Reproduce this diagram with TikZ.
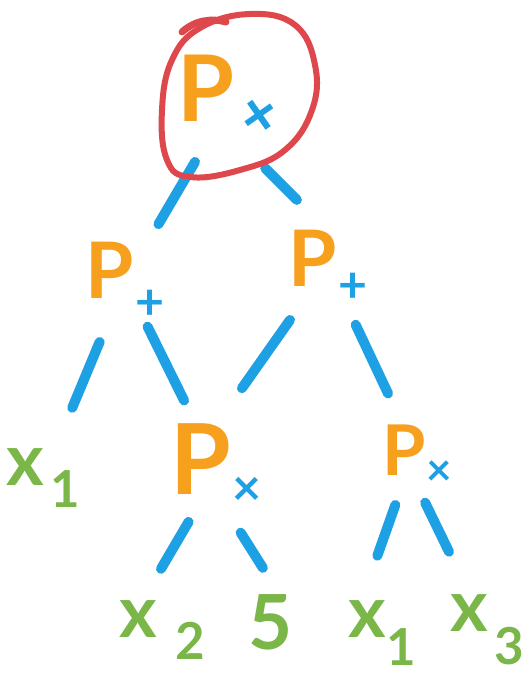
\documentclass[tikz,border=0pt]{standalone}
\usepackage{fontspec}
\setmainfont{Lato}
\usepackage{xcolor}
\definecolor{penorange}{RGB}{247,160,30}
\definecolor{penblue}{RGB}{30,160,228}
\definecolor{pengreen}{RGB}{122,182,72}
\definecolor{penred}{RGB}{222,72,76}

% P with its operator below right: size, op size, op, drop
\newcommand{\pgate}[4]{\fontsize{#1}{#1}\selectfont P\kern1pt\raisebox{-#4}{\textcolor{penblue}{\fontsize{#2}{#2}\selectfont #3}}}
% variable with index: index, kern, drop
\newcommand{\xvar}[3]{\fontsize{72}{72}\selectfont x\kern#2\raisebox{-#3}{\fontsize{51}{51}\selectfont #1}}

\begin{document}
\begin{tikzpicture}[x=1pt, y=-1pt,
  gate/.style={text=penorange, inner sep=0pt, font=\bfseries},
  leaf/.style={text=pengreen, inner sep=0pt, font=\bfseries},
  branch/.style={draw=penblue, line width=10pt, line cap=round}]
\useasboundingbox (0,0) rectangle (527,677);

\node[gate] (root) at (232,99) {\pgate{92}{64}{\rotatebox{35}{+}}{22pt}};
\node[gate] (lp) at (125,281) {\pgate{78}{50}{+}{21pt}};
\node[gate] (rp) at (328,266) {\pgate{78}{50}{+}{16pt}};
\node[gate] (mp) at (216,465) {\pgate{98}{50}{×}{11pt}};
\node[gate] (rb) at (417,455) {\pgate{70}{44}{×}{10pt}};

\node[leaf] (x1L) at (43,478) {\xvar{1}{6pt}{22pt}};
\node[leaf] (x2) at (162,630) {\xvar{2}{18pt}{22pt}};
\node[leaf, font=\bfseries\fontsize{76}{76}\selectfont] (five) at (271,622) {5};
\node[leaf] (x1R) at (382,633) {\xvar{1}{0pt}{28pt}};
\node[leaf] (x3) at (487,630) {\xvar{3}{6pt}{33pt}};

\draw[branch, shorten <=73pt, shorten >=66pt] (root.center) -- (lp.center);
\draw[branch, shorten <=47pt, shorten >=44pt] ([yshift=-36pt]root.center) -- ([yshift=35pt]rp.center);
\draw[branch, shorten <=66pt, shorten >=76pt] (lp.center) -- (x1L.center);
\draw[branch, shorten <=51pt, shorten >=72pt] (lp.center) -- (mp.center);
\draw[branch, shorten <=66pt, shorten >=45pt] (rp.center) -- ([yshift=40pt]mp.center);
\draw[branch, shorten <=65pt, shorten >=68pt] (rp.center) -- (rb.center);
\draw[branch, shorten <=66pt, shorten >=71pt] ([xshift=6pt]mp.center) -- ([xshift=-37pt]x2.center);
\draw[branch, shorten <=80pt, shorten >=64pt] ([xshift=-18pt]mp.center) -- ([xshift=26pt]five.center);
\draw[branch, shorten <=53pt, shorten >=82pt] ([xshift=-4pt]rb.center) -- ([xshift=-32pt]x1R.center);
\draw[branch, shorten <=53pt, shorten >=87pt] ([xshift=-15pt]rb.center) -- (x3.center);

% ring round the root
\draw[penred, line width=6pt, line cap=round] plot[smooth cycle, tension=0.7] coordinates {(250,14) (295,25) (315,65) (312,110) (285,150) (240,170) (190,177) (167,160) (162,110) (172,60) (200,28)};
\draw[penred, line width=7pt, line cap=round] (182,32) .. controls (195,20) and (212,18) .. (226,22);
\end{tikzpicture}
\end{document}
